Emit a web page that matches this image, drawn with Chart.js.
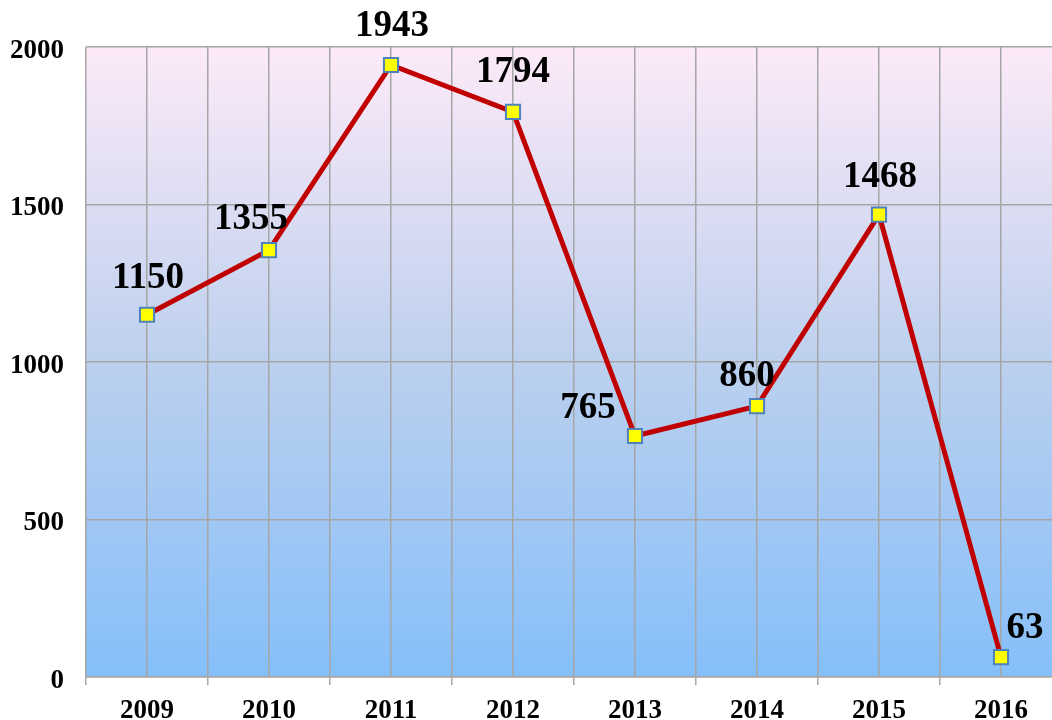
<!DOCTYPE html>
<html>
<head>
<meta charset="utf-8">
<script src="https://cdn.jsdelivr.net/npm/chart.js@4"></script>
<style>
  html, body { margin: 0; padding: 0; background: #fff; overflow: hidden; }
  #wrap { width: 1052px; height: 720px; overflow: hidden; }
  canvas { display: block; }
</style>
</head>
<body>
<div id="wrap"><canvas id="chart" width="1080" height="720"></canvas></div>
<script>
// Values
const years = ['2009', '2010', '2011', '2012', '2013', '2014', '2015', '2016'];
const counts = [1150, 1355, 1943, 1794, 765, 860, 1468, 63];
const yTicks = [0, 500, 1000, 1500, 2000];

// where each value label sits relative to its point (px)
const labelPlacement = [
  { dx: 1, dy: -36 }, { dx: -18, dy: -31 }, { dx: 1, dy: -39 }, { dx: 0, dy: -39 },
  { dx: -47, dy: -28 }, { dx: -10, dy: -30 }, { dx: 1, dy: -37 }, { dx: 24, dy: -29 }
];

const gridGray = '#a6a6a6';
const serif = '"Liberation Serif", "DejaVu Serif", serif';

// gradient fill behind the plot
const plotBackground = {
  id: 'plotBackground',
  beforeDraw(chart) {
    const { ctx, chartArea: a } = chart;
    const g = ctx.createLinearGradient(0, a.top, 0, a.bottom);
    g.addColorStop(0, 'rgb(253,234,248)');
    g.addColorStop(0.5, 'rgb(188,208,238)');
    g.addColorStop(1, 'rgb(133,191,250)');
    ctx.save();
    ctx.fillStyle = g;
    ctx.fillRect(a.left, a.top, a.right - a.left, a.bottom - a.top);
    ctx.restore();
  }
};

// bold value labels next to the points
const valueLabels = {
  id: 'valueLabels',
  afterDatasetsDraw(chart) {
    const { ctx } = chart;
    const meta = chart.getDatasetMeta(0);
    ctx.save();
    ctx.font = 'bold 37px ' + serif;
    ctx.fillStyle = '#000';
    ctx.textAlign = 'center';
    ctx.textBaseline = 'middle';
    meta.data.forEach((pt, i) => {
      const p = labelPlacement[i];
      ctx.fillText(String(counts[i]), pt.x + p.dx, pt.y + p.dy);
    });
    ctx.restore();
  }
};

new Chart(document.getElementById('chart').getContext('2d'), {
  type: 'line',
  data: {
    labels: years,
    datasets: [{
      data: counts,
      borderColor: '#c00000',
      borderWidth: 5,
      tension: 0,
      pointStyle: 'rect',
      pointRadius: 10,
      pointBackgroundColor: '#ffff00',
      pointBorderColor: '#4f81bd',
      pointBorderWidth: 2,
      clip: false
    }]
  },
  options: {
    responsive: false,
    animation: false,
    layout: { padding: { top: 47, right: 18, left: 0, bottom: 0 } },
    plugins: { legend: { display: false }, tooltip: { enabled: false } },
    scales: {
      x: {
        offset: true,
        grid: { offset: true, color: gridGray, lineWidth: 1.5, tickLength: 8, drawTicks: true },
        border: { color: gridGray, width: 1.5 },
        ticks: { color: '#000', font: { family: serif, size: 27, weight: 'bold' }, padding: 10 },
        afterFit(s) { s.height = 43; }
      },
      x2: {
        type: 'category',
        labels: years,
        position: 'bottom',
        offset: true,
        grid: { offset: false, color: gridGray, lineWidth: 1.5, drawTicks: false },
        border: { display: false },
        ticks: { display: false },
        afterFit(s) { s.height = 0; }
      },
      y: {
        min: 0,
        max: 2000,
        afterBuildTicks(s) { s.ticks = yTicks.map(v => ({ value: v })); },
        grid: { color: gridGray, lineWidth: 1.5, drawTicks: false },
        border: { display: false },
        ticks: {
          color: '#000',
          font: { family: serif, size: 27, weight: 'bold' },
          padding: 22,
          labelOffset: 4,
          callback: v => String(v)
        },
        afterFit(s) { s.width = 86; }
      }
    }
  },
  plugins: [plotBackground, valueLabels]
});
</script>
</body>
</html>
